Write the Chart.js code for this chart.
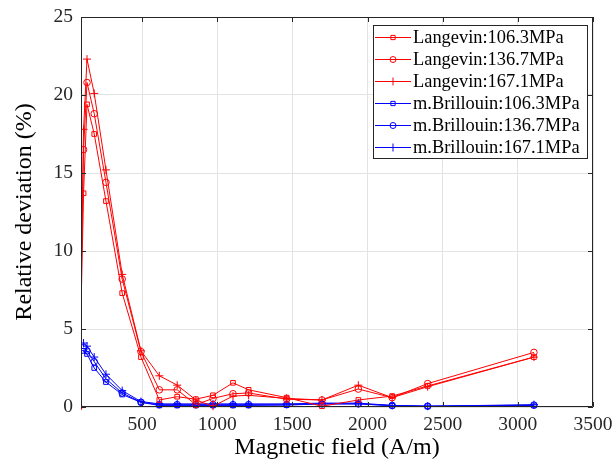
<!DOCTYPE html>
<html>
<head>
<meta charset="utf-8">
<script src="https://cdn.jsdelivr.net/npm/chart.js@4.4.0/dist/chart.umd.min.js"></script>
<style>
  html, body { margin: 0; padding: 0; background: #fff; }
  #wrap { width: 613px; height: 462px; }
</style>
</head>
<body>
<div id="wrap"><canvas id="devChart" width="613" height="462"></canvas></div>
<script>
// magnetic field points (A/m)
const field = [80, 111, 134, 182, 260, 368, 493, 615, 734, 858, 972, 1105, 1209, 1462, 1697, 1939, 2164, 2400, 3107];

// relative deviation (%) - Langevin model
const langevin106 = [0, 13.7, 19.4, 17.5, 13.2, 7.3, 3.2, 0.45, 0.66, 0.5, 0.75, 1.55, 1.1, 0.6, 0.05, 0.45, 0.7, 1.35, 3.2];
const langevin136 = [0, 16.5, 20.8, 18.8, 14.4, 8.2, 3.55, 1.1, 1.1, 0.15, 0.55, 0.85, 0.9, 0.5, 0.45, 1.15, 0.6, 1.5, 3.5];
const langevin167 = [0, 17.8, 22.3, 20.1, 15.2, 8.5, 3.6, 2.0, 1.4, 0.45, 0.05, 0.7, 0.75, 0.55, 0.45, 1.4, 0.6, 1.3, 3.2];

// relative deviation (%) - modified Brillouin model
const brillouin106 = [null, 3.6, 3.4, 2.5, 1.6, 0.8, 0.3, 0.1, 0.1, 0.1, 0.1, 0.1, 0.1, 0.12, 0.2, 0.2, 0.08, 0.05, 0.1];
const brillouin136 = [null, 3.8, 3.6, 2.9, 1.8, 0.9, 0.3, 0.15, 0.15, 0.15, 0.15, 0.15, 0.15, 0.15, 0.2, 0.2, 0.1, 0.05, 0.12];
const brillouin167 = [null, 4.1, 3.9, 3.2, 2.1, 1.05, 0.35, 0.2, 0.2, 0.2, 0.2, 0.2, 0.2, 0.2, 0.25, 0.25, 0.1, 0.05, 0.15];

const xTicks = [500, 1000, 1500, 2000, 2500, 3000, 3500];
const yTicks = [0, 5, 10, 15, 20, 25];

const FONT = '"Liberation Serif", "Times New Roman", serif';

// pair field with values
function toPoints(values) {
    return field.map((x, i) => ({ x: x, y: values[i] }));
}

function makeSet(label, values, color, marker) {
    return {
        label: label,
        data: toPoints(values),
        borderColor: color,
        backgroundColor: color,
        borderWidth: 1,
        pointStyle: marker,
        pointRadius: marker === 'cross' ? 4 : 3.3,
        pointBorderColor: color,
        pointBackgroundColor: 'rgba(0,0,0,0)',
        pointBorderWidth: 1,
        tension: 0,
        spanGaps: false,
        clip: { left: 0, top: false, right: false, bottom: false }
    };
}

// ---- frame + inward ticks (matlab box style) ----
const framePlugin = {
    id: 'frame',
    afterDatasetsDraw(chart) {
        const { ctx, chartArea: a, scales } = chart;
        ctx.save();
        ctx.strokeStyle = '#262626';
        ctx.lineWidth = 1;
        ctx.beginPath();
        ctx.rect(a.left + 0.5, a.top + 0.5, a.right - a.left - 1, a.bottom - a.top - 1);
        ctx.stroke();
        const len = 5;
        ctx.beginPath();
        xTicks.forEach(v => {
            const px = Math.round(scales.x.getPixelForValue(v)) + 0.5;
            ctx.moveTo(px, a.bottom);
            ctx.lineTo(px, a.bottom - len);
            ctx.moveTo(px, a.top);
            ctx.lineTo(px, a.top + len);
        });
        yTicks.forEach(v => {
            const py = Math.round(scales.y.getPixelForValue(v)) + 0.5;
            ctx.moveTo(a.left, py);
            ctx.lineTo(a.left + len, py);
            ctx.moveTo(a.right, py);
            ctx.lineTo(a.right - len, py);
        });
        ctx.stroke();
        ctx.restore();
    }
};

// ---- legend box with line + marker ----
const legendPlugin = {
    id: 'boxLegend',
    afterDraw(chart) {
        const { ctx } = chart;
        const sets = chart.data.datasets;
        const boxL = 373.5, boxT = 25.5, boxW = 214, boxH = 133;
        ctx.save();
        ctx.fillStyle = '#fff';
        ctx.fillRect(boxL, boxT, boxW, boxH);
        ctx.strokeStyle = '#262626';
        ctx.lineWidth = 1;
        ctx.strokeRect(boxL, boxT, boxW, boxH);
        ctx.textBaseline = 'middle';
        ctx.textAlign = 'left';
        sets.forEach((ds, i) => {
            const y = Math.round(37 + i * 21.9) + 0.5;
            ctx.strokeStyle = ds.borderColor;
            ctx.lineWidth = 1;
            ctx.beginPath();
            ctx.moveTo(375, y);
            ctx.lineTo(411, y);
            ctx.stroke();
            ctx.fillStyle = 'rgba(0,0,0,0)';
            Chart.helpers.drawPoint(ctx, {
                pointStyle: ds.pointStyle,
                radius: ds.pointStyle === 'cross' ? 4 : 3,
                borderWidth: 1,
                rotation: 0
            }, 393, y);
            ctx.font = '18.4px ' + FONT;
            ctx.fillStyle = '#000';
            ctx.fillText(ds.label, 413, y + 1);
        });
        ctx.restore();
    }
};

const ctx = document.getElementById('devChart').getContext('2d');
new Chart(ctx, {
    type: 'line',
    data: {
        datasets: [
            makeSet('Langevin:106.3MPa', langevin106, '#ff0000', 'rect'),
            makeSet('Langevin:136.7MPa', langevin136, '#ff0000', 'circle'),
            makeSet('Langevin:167.1MPa', langevin167, '#ff0000', 'cross'),
            makeSet('m.Brillouin:106.3MPa', brillouin106, '#0000ff', 'rect'),
            makeSet('m.Brillouin:136.7MPa', brillouin136, '#0000ff', 'circle'),
            makeSet('m.Brillouin:167.1MPa', brillouin167, '#0000ff', 'cross')
        ]
    },
    options: {
        responsive: false,
        animation: false,
        layout: { padding: { left: 0, right: 20, top: 17, bottom: 0 } },
        plugins: {
            legend: { display: false },
            tooltip: { enabled: false }
        },
        scales: {
            x: {
                type: 'linear',
                min: 94,
                max: 3500,
                afterBuildTicks: (axis) => { axis.ticks = xTicks.map(v => ({ value: v })); },
                afterFit: (axis) => {
                    axis.height = 55;
                    axis.paddingLeft = 0;
                    axis.paddingRight = 0;
                },
                grid: { color: '#e3e3e3', drawTicks: false },
                border: { display: false },
                ticks: {
                    padding: 6,
                    maxRotation: 0,
                    color: '#262626',
                    font: { family: FONT, size: 19.5 },
                    callback: (v) => String(v)
                },
                title: {
                    display: true,
                    text: 'Magnetic field (A/m)',
                    color: '#000',
                    font: { family: FONT, size: 24 },
                    padding: { top: 0, bottom: 0 }
                }
            },
            y: {
                min: 0,
                max: 25,
                afterFit: (axis) => {
                    axis.width = 81;
                    axis.paddingTop = 0;
                    axis.paddingBottom = 0;
                },
                grid: { color: '#e3e3e3', drawTicks: false },
                border: { display: false },
                ticks: {
                    stepSize: 5,
                    padding: 8,
                    color: '#262626',
                    font: { family: FONT, size: 19.5 }
                },
                title: {
                    display: true,
                    text: 'Relative deviation (%)',
                    color: '#000',
                    font: { family: FONT, size: 24 },
                    padding: { top: 10, bottom: 0 }
                }
            }
        }
    },
    plugins: [framePlugin, legendPlugin]
});
</script>
</body>
</html>
